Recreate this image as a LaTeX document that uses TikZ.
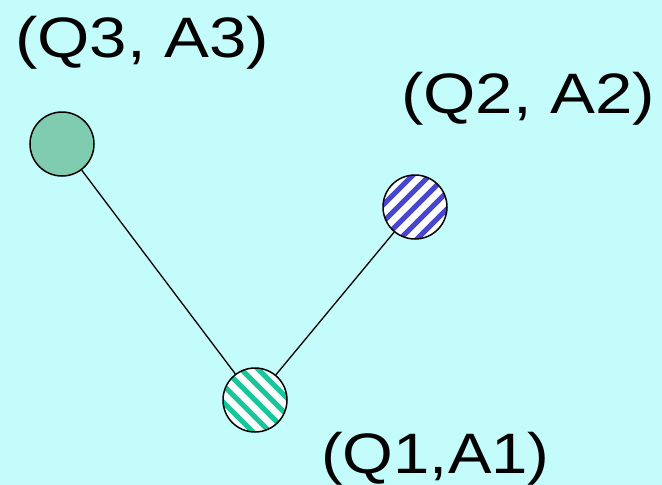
\documentclass[tikz,border=0pt]{standalone}
\usepackage{fontspec}
\setmainfont{Liberation Sans}
\definecolor{bgcyan}{RGB}{196,252,252}
\definecolor{solidgreen}{RGB}{128,204,176}
\definecolor{stripeblue}{RGB}{50,50,204}
\definecolor{stripegreen}{RGB}{0,192,144}
\tikzset{
  qnode/.style={circle, draw=black, line width=1.5pt, minimum size=64pt, inner sep=0pt},
  lbl/.style={anchor=base west, inner sep=0pt, xscale=1.18, font=\fontsize{57}{60}\selectfont},
  link/.style={draw=black, line width=1.3pt},
  bluestripes/.style={fill=white, path picture={
    \begin{scope}[shift={(path picture bounding box.center)}]
      \foreach \k in {-6,...,6}{
        \draw[stripeblue!90, line width=5.2pt] ({\k*8.5-50},{\k*8.5+50}) -- ({\k*8.5+50},{\k*8.5-50});
      }
    \end{scope}}},
  greenstripes/.style={fill=white, path picture={
    \begin{scope}[shift={(path picture bounding box.center)}]
      \foreach \k in {-6,...,6}{
        \draw[stripegreen!90, line width=5.2pt] ({\k*8.5-50},{-\k*8.5-50}) -- ({\k*8.5+50},{-\k*8.5+50});
      }
    \end{scope}}}
}
\begin{document}
\begin{tikzpicture}[x=1pt,y=-1pt]
  \fill[bgcyan] (0,0) rectangle (662,485);
  \useasboundingbox (0,0) rectangle (662,485);
  \node[qnode, fill=solidgreen] (q3) at (62,144) {};
  \node[qnode, bluestripes] (q2) at (415,207) {};
  \node[qnode, greenstripes] (q1) at (255,400) {};
  \draw[link] (q3) -- (q1);
  \draw[link] (q2) -- (q1);
  \node[lbl] (t3) at (15,57) {(Q3, A3)};
  \node[lbl] (t2) at (401,113) {(Q2, A2)};
  \node[lbl, xscale=0.97] (t1) at (321,473) {(Q1,A1)};
\end{tikzpicture}
\end{document}
